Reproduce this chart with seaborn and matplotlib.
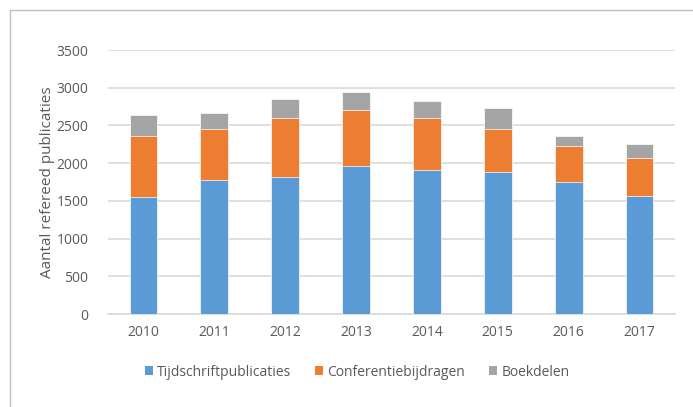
import matplotlib
matplotlib.use("Agg")
import matplotlib.pyplot as plt
import seaborn as sns
import pandas as pd
import numpy as np
from matplotlib.patches import Patch
from matplotlib.lines import Line2D

years = ["2010", "2011", "2012", "2013", "2014", "2015", "2016", "2017"]
tijdschrift = [1547, 1773, 1817, 1958, 1914, 1887, 1750, 1569]
conferentie = [817, 684, 782, 751, 685, 566, 482, 504]
boekdelen = [275, 208, 248, 230, 225, 278, 132, 177]
series_names = ["Tijdschriftpublicaties", "Conferentiebijdragen", "Boekdelen"]
colors = ["#5B9BD5", "#ED7D31", "#A5A5A5"]

sns.set_theme(style="white")
plt.rcParams['font.family'] = ['Open Sans', 'DejaVu Sans']
txt = "#595959"

df = pd.DataFrame({"year": years, "t": tijdschrift, "c": conferentie, "b": boekdelen})
df["tc"] = df["t"] + df["c"]
df["tcb"] = df["tc"] + df["b"]

fig = plt.figure(figsize=(6.93, 4.07), dpi=100)
ax = fig.add_axes([108/693, 1-314/407, (675-108)/693, (314-50)/407])

for col, colr in zip(["tcb", "tc", "t"], colors[::-1]):
    sns.barplot(data=df, x="year", y=col, color=colr, width=0.39, ax=ax,
                saturation=1, edgecolor="white", linewidth=0.5, zorder=3)

ax.set_ylim(0, 3500)
ax.set_xlim(-0.5, 7.5)
ax.set_yticks(np.arange(0, 3501, 500))
ax.yaxis.grid(True, color="#d9d9d9", linewidth=1.2, zorder=0)
ax.set_axisbelow(True)
for s in ["top", "right", "left"]:
    ax.spines[s].set_visible(False)
ax.spines["bottom"].set_color("#d9d9d9")
ax.spines["bottom"].set_linewidth(1.2)
ax.tick_params(axis="both", length=0, labelsize=10, colors=txt, pad=8)
ax.tick_params(axis="y", pad=14)
ax.set_xlabel("")
ax.set_ylabel("Aantal refereed publicaties", fontsize=11, color=txt, labelpad=1)

handles = [Patch(facecolor=c, edgecolor="none") for c in colors]
fig.legend(handles, series_names, loc="center", bbox_to_anchor=(357/693, 1-372/407),
           ncol=3, frameon=False, fontsize=10, handlelength=0.6, handleheight=0.6,
           handletextpad=0.3, columnspacing=1.7, labelcolor=txt)

# outer frame (top and left edges)
fig.add_artist(Line2D([9.5/693, 9.5/693, 1.0], [0.0, 1-10/407, 1-10/407],
                      transform=fig.transFigure, color="#bfbfbf", linewidth=1))

fig.savefig("out.png", dpi=100)
